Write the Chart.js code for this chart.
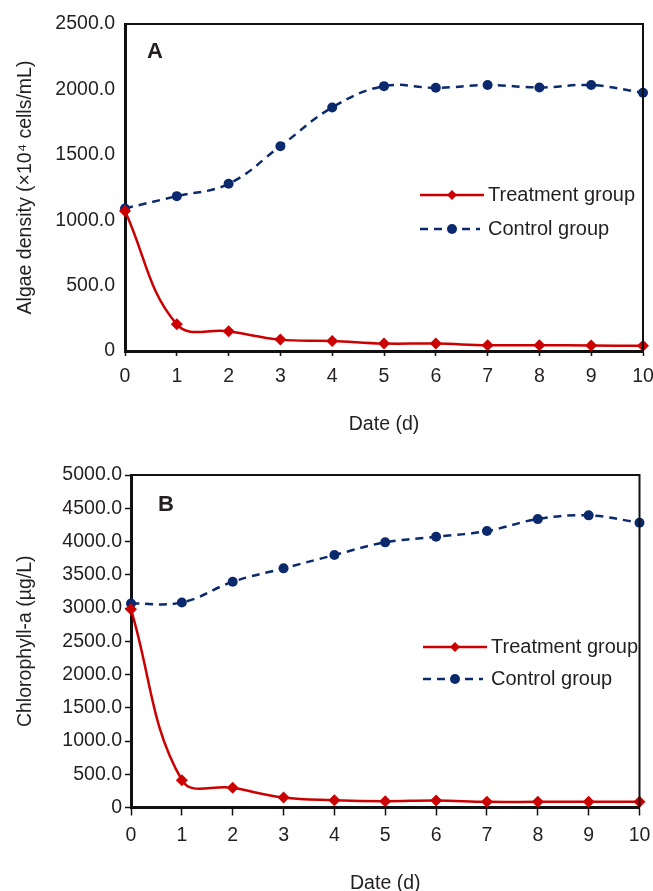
<!DOCTYPE html>
<html>
<head>
<meta charset="utf-8">
<script src="https://cdn.jsdelivr.net/npm/chart.js@4.4.1/dist/chart.umd.min.js"></script>
<style>
  html, body { margin: 0; padding: 0; background: #fff; overflow: hidden; }
  .panel { position: absolute; left: 0; width: 653px; }
</style>
</head>
<body>
<div class="panel" style="top:0;height:440px"><canvas id="chartA"></canvas></div>
<div class="panel" style="top:440px;height:455px"><canvas id="chartB"></canvas></div>
<script>
// values
const days = ["0", "1", "2", "3", "4", "5", "6", "7", "8", "9", "10"];
const algaeTreatment = [1070, 204, 151, 87, 77, 57, 57, 44, 44, 42, 40];
const algaeControl = [1090, 1184, 1278, 1566, 1862, 2025, 2012, 2033, 2015, 2033, 1974];
const chlTreatment = [2980, 411, 296, 150, 110, 95, 105, 85, 85, 85, 85];
const chlControl = [3069, 3084, 3394, 3596, 3796, 3987, 4071, 4157, 4337, 4393, 4282];
const seriesNames = ["Treatment group", "Control group"];

const RED = "#cc0000";
const NAVY = "#0b2a6e";
const INK = "#231f20";
const FONT = "'Liberation Sans', Arial, sans-serif";

// frame (top/right), panel letter and in-plot legend
const decor = {
  id: "decor",
  afterDatasetsDraw(chart, args, o) {
    const { ctx, chartArea: a } = chart;
    ctx.save();
    ctx.strokeStyle = "#111";
    ctx.lineWidth = 2;
    ctx.beginPath();
    ctx.moveTo(a.left, a.top);
    ctx.lineTo(a.right, a.top);
    ctx.lineTo(a.right, a.bottom);
    ctx.stroke();

    ctx.fillStyle = INK;
    ctx.font = "bold 22px " + FONT;
    ctx.textBaseline = "middle";
    ctx.fillText(o.letter, a.left + o.letterX, a.top + o.letterY);

    ctx.font = "20px " + FONT;
    chart.data.datasets.forEach((ds, i) => {
      const x0 = a.left + o.legendX, y = a.top + o.legendY + i * o.legendGap;
      ctx.strokeStyle = ds.borderColor;
      ctx.lineWidth = ds.borderWidth;
      ctx.setLineDash(ds.borderDash || []);
      ctx.beginPath();
      ctx.moveTo(x0, y);
      ctx.lineTo(x0 + (ds.borderDash ? 60 : 64), y);
      ctx.stroke();
      ctx.setLineDash([]);
      const mx = x0 + 32, r = ds.pointStyle === "circle" ? ds.pointRadius : 5;
      ctx.fillStyle = ds.borderColor;
      ctx.beginPath();
      if (ds.pointStyle === "circle") {
        ctx.arc(mx, y, r, 0, Math.PI * 2);
      } else {
        ctx.moveTo(mx, y - r); ctx.lineTo(mx + r, y); ctx.lineTo(mx, y + r); ctx.lineTo(mx - r, y);
        ctx.closePath();
      }
      ctx.fill();
      ctx.fillStyle = INK;
      ctx.fillText(ds.label, x0 + 68, y);
    });
    ctx.restore();
  }
};

function makeChart(id, treat, ctrl, yMax, yTitle, lay) {
  return new Chart(document.getElementById(id), {
    type: "line",
    data: {
      labels: days,
      datasets: [
        {
          label: seriesNames[0], data: treat,
          borderColor: RED, backgroundColor: RED, borderWidth: 2.5,
          pointStyle: "rectRot", pointRadius: 6, pointBorderWidth: 0,
          tension: 0.4, clip: false
        },
        {
          label: seriesNames[1], data: ctrl,
          borderColor: NAVY, backgroundColor: NAVY, borderWidth: 2.5, borderDash: [8, 6],
          pointStyle: "circle", pointRadius: 5, pointBorderWidth: 0,
          tension: 0.4, clip: false
        }
      ]
    },
    options: {
      responsive: true,
      maintainAspectRatio: false,
      animation: false,
      devicePixelRatio: 1,
      layout: { padding: { left: 0, top: lay.top, right: lay.right, bottom: 0 } },
      plugins: {
        legend: { display: false },
        tooltip: { enabled: false },
        decor: lay.decor
      },
      scales: {
        x: {
          offset: false,
          afterFit: s => { s.height = lay.xHeight; s.paddingLeft = 0; s.paddingRight = 0; },
          grid: { drawOnChartArea: false, color: "#111", tickLength: lay.xTick, tickWidth: 1.5 },
          border: { color: "#111", width: 3 },
          ticks: { color: INK, font: { family: FONT, size: 19.5 }, padding: lay.xPad, maxRotation: 0, autoSkip: false },
          title: { display: true, text: "Date (d)", color: INK, font: { family: FONT, size: 19.5 }, padding: { top: 0, bottom: lay.xTitlePad } }
        },
        y: {
          min: 0, max: yMax,
          afterFit: s => { s.width = lay.yWidth; s.paddingTop = 0; s.paddingBottom = 0; },
          grid: { drawOnChartArea: false, drawTicks: lay.yTicks, color: "#111", tickLength: 6, tickWidth: 1.5 },
          border: { color: "#111", width: 3 },
          ticks: {
            stepSize: 500, color: INK, font: { family: FONT, size: 19.5 }, padding: lay.yPad,
            callback: v => v === 0 ? "0" : v.toFixed(1)
          },
          title: { display: true, text: yTitle, color: INK, font: { family: FONT, size: 19.5 }, padding: { top: 13.5, bottom: 0 } }
        }
      }
    },
    plugins: [decor]
  });
}

makeChart("chartA", algaeTreatment, algaeControl, 2500, "Algae density (×10⁴ cells/mL)", {
  top: 24, right: 10, yWidth: 125, xHeight: 89, xTitlePad: 4, yTicks: false, yPad: 10,
  xTick: 5, xPad: 9,
  decor: { letter: "A", letterX: 22, letterY: 28, legendX: 295, legendY: 171, legendGap: 34 }
});

makeChart("chartB", chlTreatment, chlControl, 5000, "Chlorophyll-a (µg/L)", {
  top: 35, right: 13.5, yWidth: 131, xHeight: 87.5, xTitlePad: 0, yTicks: true, yPad: 3,
  xTick: 8, xPad: 8,
  decor: { letter: "B", letterX: 27, letterY: 30, legendX: 292, legendY: 172, legendGap: 32 }
});
</script>
</body>
</html>
